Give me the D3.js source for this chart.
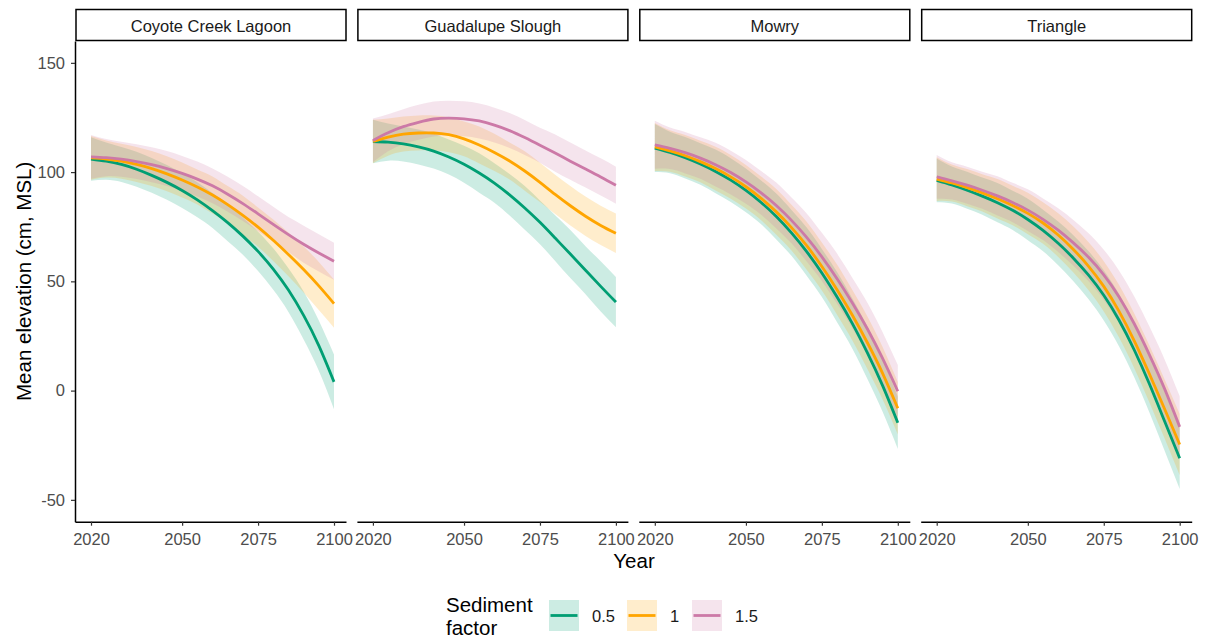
<html>
<head>
<meta charset="utf-8">
<script src="https://d3js.org/d3.v7.min.js"></script>
<style>
  body { margin: 0; background: #fff; }
  svg { font-family: "Liberation Sans", Arial, sans-serif; }
  .tick text { fill: #4d4d4d; }
  .tick line { stroke: #333; }
</style>
</head>
<body>
<div id="chart"></div>
<script>
// years of the simulation (5-year steps)
const years = [2020, 2025, 2030, 2035, 2040, 2045, 2050, 2055, 2060, 2065, 2070, 2075, 2080, 2085, 2090, 2095, 2100];
const sites = ["Coyote Creek Lagoon", "Guadalupe Slough", "Mowry", "Triangle"];
const factors = ["0.5", "1", "1.5"];
const colours = ["#009E73", "#FFA500", "#CC79A7"];
const xTicks = [2020, 2050, 2075, 2100];
const yTicks = [-50, 0, 50, 100, 150];

// mean elevation (cm, MSL) per site and sediment factor
const coyote05 = [106, 105, 103.5, 101.3, 98.5, 95.3, 91.6, 87.3, 82.4, 76.9, 70.7, 63.7, 55.6, 46, 34.4, 20.6, 4];
const coyote10 = [106.5, 106, 105, 103.5, 101.6, 99.2, 96.4, 93.2, 89.5, 85.1, 80.2, 74.8, 68.8, 62.3, 55.4, 47.9, 39.8];
const coyote15 = [107, 106.6, 105.9, 104.8, 103.4, 101.6, 99.4, 96.8, 93.7, 89.9, 85.6, 80.9, 76.1, 71.4, 67, 63, 59.2];
const guad05 = [114, 113.7, 112.9, 111.5, 109.6, 106.9, 103.6, 99.6, 95, 89.6, 83.6, 77, 69.8, 62.5, 55.1, 47.7, 40.5];
const guad10 = [114, 116, 117.4, 117.9, 117.9, 117.1, 115.2, 112.4, 109, 105.1, 100.5, 95.3, 89.8, 84.6, 79.8, 75.6, 72];
const guad15 = [114.5, 118, 120.8, 122.8, 124.3, 124.7, 124.4, 123.4, 121.5, 119, 115.8, 112.3, 108.7, 105, 101.4, 97.8, 94];
const mowry05 = [111, 109, 106.6, 103.7, 100.3, 96.3, 91.6, 86.1, 79.7, 72.2, 63.6, 53.8, 42.8, 30.8, 17.3, 2.3, -14.7];
const mowry10 = [111.5, 109.7, 107.5, 104.8, 101.6, 97.8, 93.3, 88, 81.8, 74.6, 66.3, 56.8, 46.2, 34.6, 21.9, 7.9, -8.1];
const mowry15 = [112.5, 110.9, 108.9, 106.4, 103.4, 99.8, 95.5, 90.5, 84.7, 77.9, 70.1, 61.2, 51.2, 40.2, 28.2, 14.7, -0.3];
const tri05 = [96.2, 94.1, 91.7, 89, 86, 82.5, 78.3, 73.3, 67.4, 60.6, 52.8, 43.6, 32.3, 18.7, 3.1, -13.9, -31];
const tri10 = [96.8, 95, 92.9, 90.5, 87.8, 84.7, 81.1, 76.7, 71.2, 64.6, 56.9, 47.7, 36.4, 22.9, 7.7, -8.3, -24.7];
const tri15 = [97.8, 96, 94, 91.7, 89.1, 86.1, 82.6, 78.4, 73.4, 67.6, 61, 53, 43, 30.7, 16.5, 0.9, -16.6];

// half width of the uncertainty band
const coyoteBand05 = [10, 8.5, 8, 8, 8, 8, 8, 8, 8, 8.5, 8.5, 9, 9.5, 10, 11, 11.5, 12.5];
const coyoteBand10 = [10, 8.5, 8, 8, 8, 8, 8, 8, 8.5, 8.5, 9, 9, 9.5, 10, 10.5, 11, 11];
const coyoteBand15 = [10, 8.5, 8, 8, 8, 8, 8, 8, 8, 8, 8, 8, 8, 8, 8.5, 8.5, 8.5];
const guadBand05 = [10, 8.5, 8, 8, 8, 8, 8.5, 9, 9, 9.5, 10, 10, 10.5, 11, 11, 11.5, 11.5];
const guadBand10 = [10, 8.5, 8, 8, 8, 8, 8, 8.5, 8.5, 8.5, 9, 9, 9, 9, 9, 9, 9];
const guadBand15 = [10, 8.5, 8, 8, 8, 8, 8, 8, 8, 8, 8, 8, 8.5, 8.5, 8.5, 8.5, 8.5];
const mowryBand = [11, 9.5, 9.5, 9.5, 10, 10, 10, 10, 10.5, 10.5, 11, 11, 11.5, 11.5, 12, 12, 12];
const triBand = [10, 8.5, 8.5, 8.5, 9, 9, 9.5, 9.5, 10, 10.5, 11, 11.5, 12, 12.5, 13, 13.5, 14];

const siteSeries = {
  "Coyote Creek Lagoon": [[coyote05, coyoteBand05], [coyote10, coyoteBand10], [coyote15, coyoteBand15]],
  "Guadalupe Slough": [[guad05, guadBand05], [guad10, guadBand10], [guad15, guadBand15]],
  "Mowry": [[mowry05, mowryBand], [mowry10, mowryBand], [mowry15, mowryBand]],
  "Triangle": [[tri05, triBand], [tri10, triBand], [tri15, triBand]]
};

const W = 1207, H = 641;
const panelLeft = 75, panelStep = 281.9, panelW = 271;
const panelTop = 41, panelBottom = 521.7;

const svg = d3.select("#chart").append("svg")
  .attr("width", W).attr("height", H);

const x = d3.scaleLinear().domain([2014.73, 2103.95]).range([0, panelW]);
const y = d3.scaleLinear().domain([-60, 160]).range([panelBottom, panelTop]);

const area = d3.area()
  .x(d => x(d.year)).y0(d => y(d.lo)).y1(d => y(d.hi))
  .curve(d3.curveNatural);
const line = d3.line()
  .x(d => x(d.year)).y(d => y(d.mean))
  .curve(d3.curveNatural);

sites.forEach(function(site, i) {
  const g = svg.append("g").attr("transform", "translate(" + (panelLeft + i * panelStep) + ",0)");
  const rows = siteSeries[site].map(s => years.map((yr, k) => ({
    year: yr, mean: s[0][k], lo: s[0][k] - s[1][k], hi: s[0][k] + s[1][k]
  })));

  // ribbons first, lines on top
  rows.forEach((r, j) => {
    g.append("path").attr("d", area(r))
      .attr("fill", colours[j]).attr("fill-opacity", 0.2);
  });
  rows.forEach((r, j) => {
    g.append("path").attr("d", line(r))
      .attr("fill", "none").attr("stroke", colours[j]).attr("stroke-width", 2.8);
  });

  // strip
  g.append("rect")
    .attr("x", 1).attr("y", 9.5).attr("width", panelW - 1).attr("height", 31)
    .attr("fill", "white").attr("stroke", "black").attr("stroke-width", 1.5);
  g.append("text")
    .attr("x", panelW / 2 + 0.5).attr("y", 32)
    .attr("text-anchor", "middle").style("font-size", "16.5px").attr("fill", "#1a1a1a")
    .text(site);

  // x axis
  const xa = g.append("g").attr("transform", "translate(0," + panelBottom + ")")
    .call(d3.axisBottom(x).tickValues(xTicks).tickFormat(d => String(d))
      .tickSize(4).tickSizeOuter(0).tickPadding(8));
  xa.select(".domain").attr("stroke", "black").attr("stroke-width", 1.5);
  xa.selectAll(".tick text").style("font-size", "16.5px");
  xa.selectAll(".tick line").attr("stroke-width", 1.2);

  if (i === 0) {
    const ya = g.append("g")
      .call(d3.axisLeft(y).tickValues(yTicks).tickFormat(d => String(d))
        .tickSize(4).tickSizeOuter(0).tickPadding(6));
    ya.select(".domain").attr("stroke", "black").attr("stroke-width", 1.5);
    ya.selectAll(".tick text").style("font-size", "16.5px");
    ya.selectAll(".tick line").attr("stroke-width", 1.2);
  }
});

// axis titles
svg.append("text")
  .attr("x", 634).attr("y", 568)
  .attr("text-anchor", "middle").style("font-size", "20.5px")
  .text("Year");
svg.append("text")
  .attr("transform", "translate(31," + ((panelTop + panelBottom) / 2) + ") rotate(-90)")
  .attr("text-anchor", "middle").style("font-size", "20.5px")
  .text("Mean elevation (cm, MSL)");

// legend
const legend = svg.append("g");
legend.append("text").attr("x", 446).attr("y", 612).style("font-size", "20.5px").text("Sediment");
legend.append("text").attr("x", 446).attr("y", 635).style("font-size", "20.5px").text("factor");

const keyX = [549, 627, 692];
factors.forEach(function(f, j) {
  legend.append("rect")
    .attr("x", keyX[j]).attr("y", 600).attr("width", 30).attr("height", 31)
    .attr("fill", colours[j]).attr("fill-opacity", 0.2);
  legend.append("line")
    .attr("x1", keyX[j] + 1.5).attr("x2", keyX[j] + 28.5)
    .attr("y1", 615.5).attr("y2", 615.5)
    .attr("stroke", colours[j]).attr("stroke-width", 2.8);
  legend.append("text")
    .attr("x", keyX[j] + 43).attr("y", 622)
    .style("font-size", "16.5px").attr("fill", "#1a1a1a")
    .text(f);
});
</script>
</body>
</html>
